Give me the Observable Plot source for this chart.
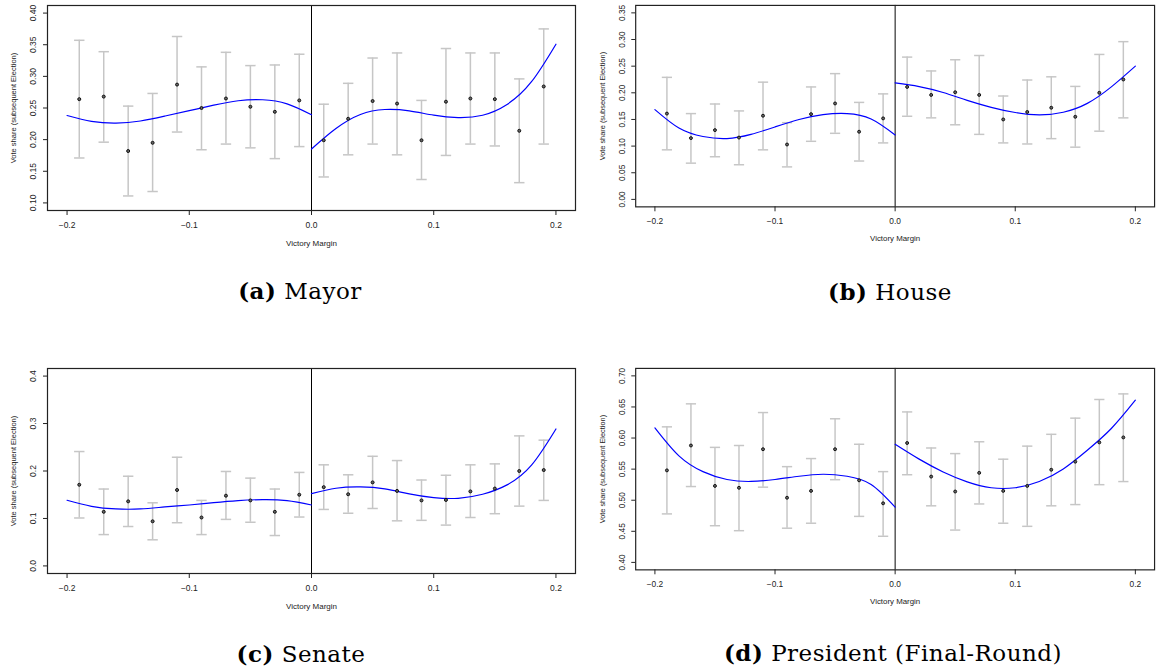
<!DOCTYPE html>
<html>
<head>
<meta charset="utf-8">
<script src="https://cdn.jsdelivr.net/npm/d3@7"></script>
<script src="https://cdn.jsdelivr.net/npm/@observablehq/plot@0.6"></script>
<style>
  html, body { margin: 0; padding: 0; background: #fff; }
  #wrap { position: relative; width: 1159px; height: 667px; overflow: hidden; background: #fff; }
  .panel { position: absolute; }
  .cap { position: absolute; width: 400px; text-align: center; font-family: "DejaVu Serif", serif; font-size: 23px; letter-spacing: 0.5px; line-height: 1; color: #000; white-space: nowrap; }
  .cap b { font-weight: bold; }
</style>
</head>
<body>
<div id="wrap"></div>
<script>
// ---- shared data ----
const binX = [-0.19,-0.17,-0.15,-0.13,-0.11,-0.09,-0.07,-0.05,-0.03,-0.01,0.01,0.03,0.05,0.07,0.09,0.11,0.13,0.15,0.17,0.19];
const curveXLeft = [-0.2,-0.18,-0.16,-0.14,-0.12,-0.10,-0.08,-0.06,-0.04,-0.02,0];
const curveXRight = [0,0.02,0.04,0.06,0.08,0.10,0.12,0.14,0.16,0.18,0.2];
const xTicks = [-0.2,-0.1,0,0.1,0.2];
const xTickLabels = ["\u22120.2","\u22120.1","0.0","0.1","0.2"];
const xTitle = "Victory Margin";
const yTitle = "Vote share (subsequent Election)";

// ---- (a) Mayor ----
const mayorMean = [0.264,0.268,0.182,0.195,0.287,0.250,0.265,0.252,0.244,0.262,0.199,0.233,0.261,0.257,0.199,0.260,0.265,0.264,0.214,0.284];
const mayorLo   = [0.171,0.196,0.111,0.118,0.212,0.184,0.193,0.187,0.170,0.189,0.141,0.176,0.193,0.176,0.137,0.175,0.193,0.190,0.132,0.193];
const mayorHi   = [0.357,0.339,0.253,0.273,0.363,0.315,0.338,0.317,0.318,0.335,0.256,0.289,0.329,0.337,0.262,0.344,0.337,0.337,0.296,0.375];
const mayorCurveL = [0.2381,0.2290,0.2262,0.2295,0.2372,0.2458,0.2545,0.2615,0.2630,0.2565,0.2392];
const mayorCurveR = [0.1852,0.2175,0.2397,0.2476,0.2455,0.2386,0.2349,0.2386,0.2556,0.2915,0.3508];
const mayorYTicks = [0.10,0.15,0.20,0.25,0.30,0.35,0.40];
const mayorYLabels = ["0.10","0.15","0.20","0.25","0.30","0.35","0.40"];

// ---- (b) House ----
const houseMean = [0.161,0.115,0.130,0.116,0.157,0.103,0.160,0.180,0.127,0.152,0.211,0.196,0.201,0.196,0.150,0.164,0.172,0.155,0.200,0.225];
const houseLo   = [0.093,0.068,0.080,0.065,0.093,0.061,0.109,0.124,0.072,0.106,0.156,0.153,0.140,0.122,0.106,0.104,0.114,0.098,0.128,0.153];
const houseHi   = [0.229,0.161,0.179,0.166,0.220,0.144,0.211,0.236,0.182,0.198,0.267,0.241,0.262,0.270,0.194,0.224,0.230,0.212,0.272,0.296];
const houseCurveL = [0.1685,0.1340,0.1180,0.1142,0.1220,0.1360,0.1500,0.1590,0.1610,0.1510,0.1210];
const houseCurveR = [0.2185,0.2117,0.2006,0.1858,0.1728,0.1630,0.1586,0.1636,0.1802,0.2111,0.2500];
const houseYTicks = [0.00,0.05,0.10,0.15,0.20,0.25,0.30,0.35];
const houseYLabels = ["0.00","0.05","0.10","0.15","0.20","0.25","0.30","0.35"];

// ---- (c) Senate ----
const senateMean = [0.171,0.114,0.136,0.094,0.160,0.102,0.148,0.138,0.114,0.150,0.166,0.151,0.176,0.158,0.138,0.139,0.157,0.163,0.200,0.202];
const senateLo   = [0.101,0.066,0.083,0.055,0.091,0.066,0.098,0.092,0.064,0.103,0.119,0.111,0.121,0.095,0.096,0.086,0.102,0.110,0.126,0.138];
const senateHi   = [0.241,0.162,0.189,0.133,0.229,0.138,0.199,0.185,0.162,0.197,0.213,0.192,0.231,0.222,0.181,0.191,0.213,0.215,0.274,0.265];
const senateCurveL = [0.1383,0.1256,0.1200,0.1200,0.1242,0.1284,0.1333,0.1376,0.1397,0.1376,0.1284];
const senateCurveR = [0.1524,0.1637,0.1665,0.1623,0.1517,0.1439,0.1425,0.1510,0.1707,0.2123,0.2885];
const senateYTicks = [0.0,0.1,0.2,0.3,0.4];
const senateYLabels = ["0.0","0.1","0.2","0.3","0.4"];

// ---- (d) President ----
const presMean = [0.548,0.588,0.523,0.520,0.582,0.504,0.515,0.582,0.532,0.495,0.592,0.538,0.514,0.544,0.515,0.523,0.549,0.562,0.593,0.601];
const presLo   = [0.478,0.522,0.459,0.451,0.521,0.455,0.463,0.533,0.474,0.442,0.541,0.491,0.452,0.494,0.463,0.458,0.491,0.493,0.525,0.530];
const presHi   = [0.618,0.655,0.585,0.588,0.641,0.554,0.567,0.631,0.590,0.546,0.642,0.584,0.575,0.594,0.566,0.587,0.606,0.632,0.662,0.671];
const presCurveL = [0.6164,0.5714,0.5460,0.5333,0.5302,0.5333,0.5386,0.5418,0.5386,0.5254,0.4889];
const presCurveR = [0.5900,0.5661,0.5455,0.5296,0.5201,0.5201,0.5302,0.5503,0.5804,0.6153,0.6608];
const presYTicks = [0.40,0.45,0.50,0.55,0.60,0.65,0.70];
const presYLabels = ["0.40","0.45","0.50","0.55","0.60","0.65","0.70"];

const panels = [
  {left: 0,   top: 0,   yDomain: [0.088, 0.412],  mean: mayorMean,  lo: mayorLo,  hi: mayorHi,  cl: mayorCurveL,  cr: mayorCurveR,  yt: mayorYTicks,  yl: mayorYLabels,
   capLetter: "(a)", capText: "Mayor", capCx: 300, capTop: 279},
  {left: 589, top: 0,   yDomain: [-0.014, 0.364], mean: houseMean,  lo: houseLo,  hi: houseHi,  cl: houseCurveL,  cr: houseCurveR,  yt: houseYTicks,  yl: houseYLabels,
   capLetter: "(b)", capText: "House", capCx: 890, capTop: 279.5},
  {left: 0,   top: 363, yDomain: [-0.016, 0.416], mean: senateMean, lo: senateLo, hi: senateHi, cl: senateCurveL, cr: senateCurveR, yt: senateYTicks, yl: senateYLabels,
   capLetter: "(c)", capText: "Senate", capCx: 301, capTop: 642},
  {left: 589, top: 363, yDomain: [0.388, 0.712],  mean: presMean,   lo: presLo,   hi: presHi,   cl: presCurveL,   cr: presCurveR,   yt: presYTicks,   yl: presYLabels,
   capLetter: "(d)", capText: "President (Final-Round)", capCx: 893, capTop: 641}
];

// horizontal cap symbol for error bars (half-width = r)
const capSymbol = {
  draw(context, size) {
    const w = Math.sqrt(size / Math.PI);
    context.moveTo(-w, 0);
    context.lineTo(w, 0);
  }
};

const wrap = document.getElementById("wrap");

for (const p of panels) {
  const pts = binX.map((x, i) => ({x, mean: p.mean[i], lo: p.lo[i], hi: p.hi[i]}));
  const caps = pts.flatMap(d => [{x: d.x, y: d.lo}, {x: d.x, y: d.hi}]);
  const left = curveXLeft.map((x, i) => ({x, y: p.cl[i]}));
  const right = curveXRight.map((x, i) => ({x, y: p.cr[i]}));
  const yTickData = p.yt.map((v, i) => ({v, label: p.yl[i]}));

  const chart = Plot.plot({
    width: 580,
    height: 255,
    marginLeft: 47,
    marginRight: 5,
    marginTop: 5,
    marginBottom: 45,
    x: {domain: [-0.216, 0.216], label: null},
    y: {domain: p.yDomain, label: null},
    style: {fontFamily: "'Liberation Sans', Arial, sans-serif", fontSize: "8.5px", background: "transparent", color: "#222", overflow: "visible"},
    marks: [
      Plot.ruleX(pts, {x: "x", y1: "lo", y2: "hi", stroke: "#c6c6c6", strokeWidth: 1.5}),
      Plot.dot(caps, {x: "x", y: "y", symbol: capSymbol, r: 5.2, stroke: "#c6c6c6", strokeWidth: 1.5, fill: "none"}),
      Plot.ruleX([0], {stroke: "#000", strokeWidth: 1}),
      Plot.line(left, {x: "x", y: "y", curve: "natural", stroke: "#0000ff", strokeWidth: 1.2}),
      Plot.line(right, {x: "x", y: "y", curve: "natural", stroke: "#0000ff", strokeWidth: 1.2}),
      Plot.dot(pts, {x: "x", y: "mean", r: 1.5, fill: "#666", stroke: "#111", strokeWidth: 1}),
      Plot.frame({stroke: "#222", strokeWidth: 1.2}),
      Plot.axisX({ticks: xTicks, tickSize: 5, tickPadding: 6, tickFormat: d => xTickLabels[xTicks.indexOf(d)], label: null, stroke: "#222"}),
      Plot.axisY({ticks: p.yt, tickSize: 4, tickFormat: () => "", label: null, stroke: "#222"}),
      Plot.text(yTickData, {y: "v", text: "label", frameAnchor: "left", dx: -14, rotate: -90, textAnchor: "middle", fill: "#222"}),
      Plot.text([yTitle], {frameAnchor: "left", dx: -34, rotate: -90, textAnchor: "middle", fontSize: 7.5, fill: "#222"}),
      Plot.text([xTitle], {frameAnchor: "bottom", dy: 35, fontSize: 8, fill: "#222"})
    ]
  });

  const div = document.createElement("div");
  div.className = "panel";
  div.style.left = p.left + "px";
  div.style.top = p.top + "px";
  div.appendChild(chart);
  wrap.appendChild(div);

  const cap = document.createElement("div");
  cap.className = "cap";
  cap.style.left = (p.capCx - 200) + "px";
  cap.style.top = p.capTop + "px";
  const b = document.createElement("b");
  b.textContent = p.capLetter;
  cap.appendChild(b);
  cap.appendChild(document.createTextNode(" " + p.capText));
  wrap.appendChild(cap);
}
</script>
</body>
</html>
